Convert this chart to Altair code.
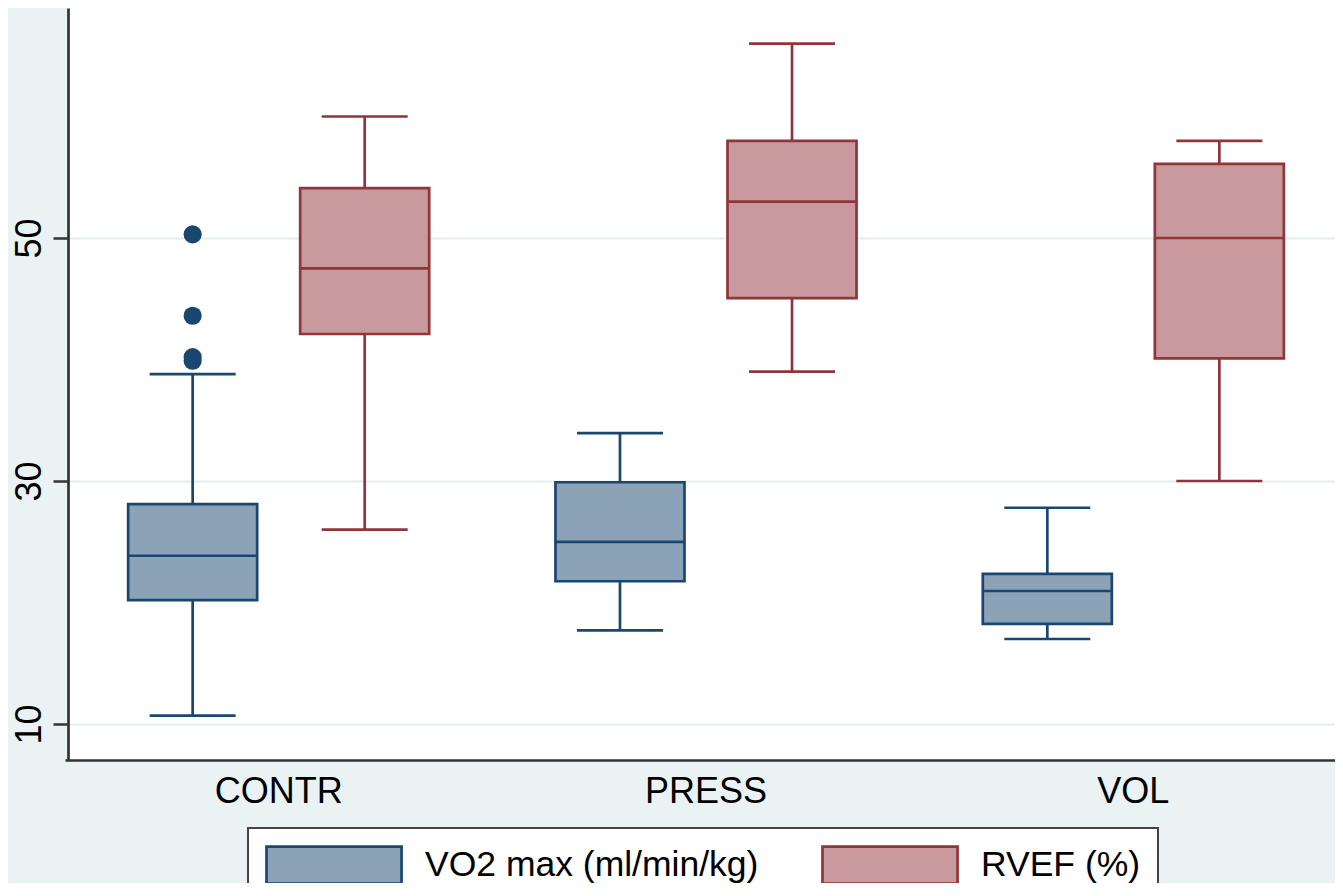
import altair as alt
import pandas as pd

groups = ["CONTR", "PRESS", "VOL"]
series = ["VO2 max (ml/min/kg)", "RVEF (%)"]

vo2_lower = [10.7, 17.7, 17.0]
vo2_q1 = [20.2, 21.75, 18.25]
vo2_median = [23.85, 25.0, 20.95]
vo2_q3 = [28.1, 29.9, 22.35]
vo2_upper = [38.8, 33.95, 27.8]

rvef_lower = [26.0, 39.0, 30.0]
rvef_q1 = [42.1, 45.05, 40.1]
rvef_median = [47.5, 53.0, 50.0]
rvef_q3 = [54.1, 58.0, 56.1]
rvef_upper = [60.0, 66.0, 58.0]

outlier_group = ["CONTR", "CONTR", "CONTR", "CONTR"]
outlier_series = ["VO2 max (ml/min/kg)"] * 4
outlier_values = [50.3, 43.6, 40.2, 39.9]

fills = ["#8CA3B7", "#C89A9D"]
strokes = ["#1A476F", "#90353B"]

rows = []
for i, g in enumerate(groups):
    rows.append(dict(group=g, series=series[0], lower=vo2_lower[i], q1=vo2_q1[i],
                     median=vo2_median[i], q3=vo2_q3[i], upper=vo2_upper[i]))
    rows.append(dict(group=g, series=series[1], lower=rvef_lower[i], q1=rvef_q1[i],
                     median=rvef_median[i], q3=rvef_q3[i], upper=rvef_upper[i]))
stats = pd.DataFrame(rows)
outl = pd.DataFrame(dict(group=outlier_group, series=outlier_series, value=outlier_values))

FONT = "Liberation Sans"

x_enc = alt.X("group:N", sort=groups, title=None,
              scale=alt.Scale(paddingInner=0, paddingOuter=0, range=[-3, 1279]),
              axis=alt.Axis(labelAngle=0, ticks=False, labelFontSize=36, labelFont=FONT,
                            labelColor="#000000", labelPadding=14, domainColor="#333333",
                            domainWidth=2.7, grid=False))
xo_enc = alt.XOffset("series:N", sort=series,
                     scale=alt.Scale(paddingInner=0.25, paddingOuter=0.367))
y_scale = alt.Scale(domain=[7.04, 68.93], nice=False, zero=False)
y_axis = alt.Axis(values=[10, 30, 50], labelAngle=270, labelAlign="center",
                  labelBaseline="alphabetic", labelFontSize=36, labelFont=FONT,
                  labelColor="#000000", labelPadding=13, tickSize=15, tickWidth=2.5,
                  tickColor="#333333", domainColor="#333333", domainWidth=2.7,
                  grid=True, gridColor="#E3EDF0", gridWidth=2)
# line colour scale listed in reverse order so it stays separate from the legend scales
line_color = alt.Color("series:N",
                       scale=alt.Scale(domain=series[::-1], range=strokes[::-1]),
                       legend=None)

base = alt.Chart(stats)

whisk_lo = base.mark_rule(strokeWidth=2.7).encode(
    x=x_enc, xOffset=xo_enc,
    y=alt.Y("lower:Q", scale=y_scale, axis=y_axis, title=None),
    y2="q1:Q", color=line_color)
whisk_hi = base.mark_rule(strokeWidth=2.7).encode(
    x=x_enc, xOffset=xo_enc, y=alt.Y("q3:Q", scale=y_scale, title=None),
    y2="upper:Q", color=line_color)

legend = alt.Legend(orient="none", legendX=180, legendY=820, direction="horizontal",
                    title=None, symbolType="M-1,-1L6.3,-1L6.3,1L-1,1Z",
                    symbolSize=1369,
                    symbolStrokeWidth=2.7, labelFontSize=35.5, labelFont=FONT,
                    labelColor="#000000", labelLimit=800, labelOffset=120, columnPadding=58,
                    padding=17, strokeColor="#444444", fillColor="#FFFFFF")

box = base.mark_bar(strokeWidth=2.7, opacity=1).encode(
    x=x_enc, xOffset=xo_enc,
    y=alt.Y("q1:Q", scale=y_scale, title=None), y2="q3:Q",
    fill=alt.Fill("series:N", scale=alt.Scale(domain=series, range=fills), legend=legend),
    stroke=alt.Stroke("series:N", scale=alt.Scale(domain=series, range=strokes), legend=legend))

med = base.mark_tick(size=128, thickness=2.7, opacity=1).encode(
    x=x_enc, xOffset=xo_enc, y=alt.Y("median:Q", scale=y_scale, title=None), color=line_color)
cap_lo = base.mark_tick(size=86, thickness=2.7, opacity=1).encode(
    x=x_enc, xOffset=xo_enc, y=alt.Y("lower:Q", scale=y_scale, title=None), color=line_color)
cap_hi = base.mark_tick(size=86, thickness=2.7, opacity=1).encode(
    x=x_enc, xOffset=xo_enc, y=alt.Y("upper:Q", scale=y_scale, title=None), color=line_color)

pts = alt.Chart(outl).mark_circle(size=330, opacity=1).encode(
    x=x_enc, xOffset=xo_enc, y=alt.Y("value:Q", scale=y_scale, title=None), color=line_color)

chart = alt.layer(whisk_lo, whisk_hi, box, med, cap_lo, cap_hi, pts).properties(
    width=1267, height=752,
    autosize=alt.AutoSizeParams(type="none"),
    padding={"left": 60, "top": 0, "right": 0, "bottom": 123},
    background="#EAF2F3",
).configure_view(fill="#FFFFFF", strokeWidth=0).configure_legend(strokeWidth=2)

chart.save("out.html", embed_options={"renderer": "svg", "actions": False})
